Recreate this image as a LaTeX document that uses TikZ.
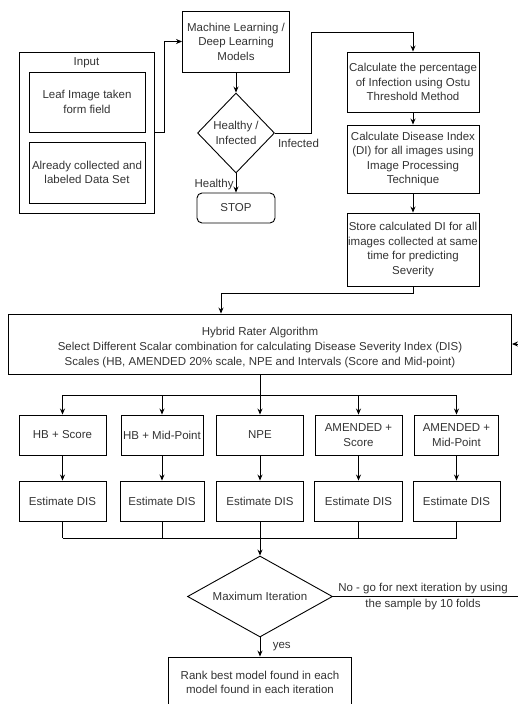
\documentclass[tikz,border=0pt]{standalone}
\usepackage{fontspec}
\setmainfont{Liberation Sans}
\usetikzlibrary{shapes.geometric,arrows.meta}
\begin{document}
\begin{tikzpicture}[x=1pt,y=-1pt,
  font=\fontsize{11.5}{14.5}\selectfont,
  every node/.style={text=black!80},
  bx/.style={draw=black, line width=0.9pt, align=center, inner sep=1pt},
  ln/.style={draw=black, line width=0.9pt},
  arr/.style={ln, -{Stealth[length=6pt,width=5pt]}},
  dm/.style={bx, diamond, inner sep=0pt}]
\useasboundingbox (0,0) rectangle (518,704);
% input group
\node[bx, minimum width=135, minimum height=161] (input) at (86.5,132.5) {};
\node (inlabel) at (86.5,62.5) {Input};
\node[bx, minimum width=116, minimum height=60] (leaf) at (87,102) {Leaf Image taken\\form field};
\node[bx, minimum width=116, minimum height=61] (coll) at (87,172.5) {Already collected and\\labeled Data Set};
% top flow
\node[bx, minimum width=107, minimum height=61] (ml) at (236,41.5) {Machine Learning /\\Deep Learning\\Models};
\node[dm, aspect=1, minimum width=77, minimum height=80] (hi) at (236,133) {Healthy /\\Infected};
\node[bx, rounded corners=5pt, minimum width=78, minimum height=30] (stop) at (236,208) {STOP};
\node (inf) at (298.5,143) {Infected};
% right column
\node[bx, minimum width=132, minimum height=60] (c1) at (413,82) {Calculate the percentage\\of Infection using Ostu\\Threshold Method};
\node[bx, minimum width=132, minimum height=68] (c2) at (413,159) {Calculate Disease Index\\(DI) for all images using\\Image Processing\\Technique};
\node[bx, minimum width=132, minimum height=73] (c3) at (413,249.5) {Store calculated DI for all\\images collected at same\\time for predicting\\Severity};
% hybrid
\node[bx, minimum width=503, minimum height=60,
  label={[align=center, yshift=-3.5pt, font=\fontsize{11.5}{15}\selectfont]center:Hybrid Rater Algorithm\\Select Different Scalar combination for calculating Disease Severity Index (DIS)\\Scales (HB, AMENDED 20\% scale, NPE and Intervals (Score and Mid-point)}] (hy) at (260,344) {};
% rows
\node[bx, minimum width=87, minimum height=40] (b1) at (62.5,435) {HB + Score};
\node[bx, minimum width=82, minimum height=40] (b2) at (162,435) {HB + Mid-Point};
\node[bx, minimum width=87, minimum height=40] (b3) at (260,435) {NPE};
\node[bx, minimum width=87, minimum height=40] (b4) at (358.5,435) {AMENDED +\\Score};
\node[bx, minimum width=84, minimum height=40] (b5) at (456.5,435) {AMENDED +\\Mid-Point};
\node[bx, minimum width=87, minimum height=40] (e1) at (62.5,501) {Estimate DIS};
\node[bx, minimum width=84, minimum height=40] (e2) at (162,501) {Estimate DIS};
\node[bx, minimum width=87, minimum height=40] (e3) at (260,501) {Estimate DIS};
\node[bx, minimum width=88, minimum height=40] (e4) at (358.5,501) {Estimate DIS};
\node[bx, minimum width=87, minimum height=40] (e5) at (456.5,501) {Estimate DIS};
% bottom
\node[dm, aspect=1.8, minimum width=145, minimum height=81] (mx) at (260,596.5) {Maximum Iteration};
\node[bx, minimum width=183, minimum height=51] (rank) at (260,682.5) {Rank best model found in each\\model found in each iteration};
\node[align=center, font=\fontsize{11.5}{16}\selectfont] (nolab) at (423,596.5) {No - go for next iteration by using\\the sample by 10 folds};
% coordinates
\coordinate (k1) at (311,32);
\coordinate (k2) at (221,293);
\coordinate (k3) at (518,344);
\coordinate (bus1) at (260,395);
\coordinate (bus2) at (260,538);
\coordinate (k4) at (518,596.5);
% connectors
\draw[arr] (input.east) -- ++(10,0) |- (ml.west);
\draw[arr] (ml) -- (hi);
\draw[arr] (hi) -- node[left, inner sep=2pt, yshift=-1.5pt] {Healthy} (stop);
\draw[arr] (hi.east) -| (k1) -| (c1.north);
\draw[arr] (c1) -- (c2);
\draw[arr] (c2) -- (c3);
\draw[arr] (c3.south) |- (k2) -- (k2 |- hy.north);
\draw[arr] (k3) -- (hy.east);
\draw[ln] (hy.south) -- (bus1);
\draw[ln] (b1 |- bus1) -- (b5 |- bus1);
\foreach \i in {1,...,5}{
  \draw[arr] (b\i |- bus1) -- (b\i.north);
  \draw[arr] (b\i) -- (e\i);
  \draw[ln] (e\i.south) -- (e\i |- bus2);
}
\draw[ln] (e1 |- bus2) -- (e5 |- bus2);
\draw[arr] (bus2) -- (mx.north);
\draw[ln] (mx.east) -- (k4);
\draw[arr] (mx.south) -- node[right, xshift=9pt] {yes} (rank.north);
\end{tikzpicture}
\end{document}
